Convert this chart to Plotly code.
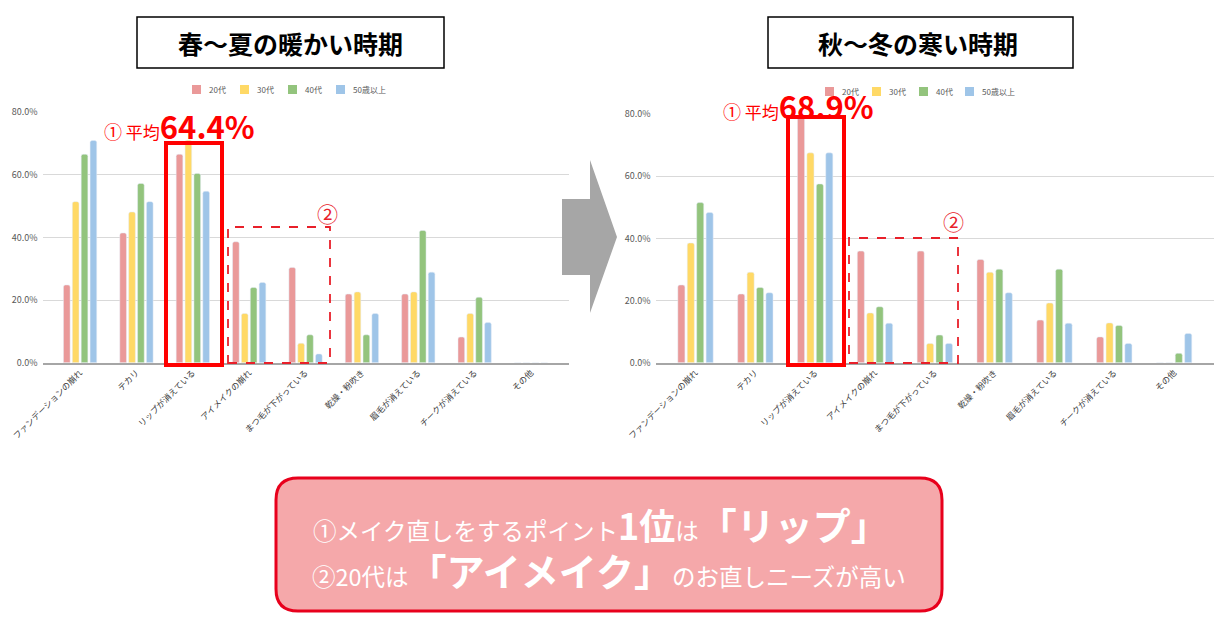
import plotly.graph_objects as go

# the page body adds an 8px margin, so the figure is drawn 8px smaller and
# reference pixel positions are shifted by that offset
OFF = 8
W, H = 1229 - OFF, 630 - OFF

categories = ["ファンデーションの崩れ", "テカリ", "リップが消えている", "アイメイクの崩れ",
              "まつ毛が下がっている", "乾燥・粉吹き", "眉毛が消えている", "チークが消えている", "その他"]
age_groups = ["20代", "30代", "40代", "50歳以上"]
colors = ["#ea9999", "#ffd966", "#93c47d", "#9fc5e8"]

# 春〜夏 (%)
warm_20s = [24.8, 41.4, 66.5, 38.6, 30.4, 21.9, 21.9, 8.2, 0]
warm_30s = [51.4, 48.1, 71.0, 15.7, 6.2, 22.6, 22.6, 15.7, 0]
warm_40s = [66.5, 57.2, 60.4, 24.0, 8.9, 8.9, 42.2, 20.9, 0]
warm_50s = [70.9, 51.4, 54.7, 25.6, 2.8, 15.7, 28.9, 12.8, 0]

# 秋〜冬 (%)
cold_20s = [25.0, 22.1, 79.0, 35.9, 35.9, 33.2, 13.7, 8.3, 0]
cold_30s = [38.5, 29.1, 67.5, 16.0, 6.2, 29.1, 19.2, 12.8, 0]
cold_40s = [51.5, 24.2, 57.5, 18.0, 8.9, 30.1, 30.1, 12.0, 3.0]
cold_50s = [48.3, 22.5, 67.5, 12.7, 6.2, 22.5, 12.7, 6.2, 9.4]

warm_avg = "64.4%"
cold_avg = "68.9%"

y_ticks = [0, 20, 40, 60, 80]
y_tick_labels = ["0.0%", "20.0%", "40.0%", "60.0%", "80.0%"]

FONT = "Noto Sans CJK JP"
RED = "#ff0000"


def px(x):
    return (x - OFF) / W


def py(y):
    return 1 - (y - OFF) / H


fig = go.Figure()

warm = [warm_20s, warm_30s, warm_40s, warm_50s]
cold = [cold_20s, cold_30s, cold_40s, cold_50s]
for name, col, vals in zip(age_groups, colors, warm):
    fig.add_trace(go.Bar(x=categories, y=vals, name=name, marker=dict(color=col, cornerradius=2),
                         xaxis="x", yaxis="y", showlegend=False))
for name, col, vals in zip(age_groups, colors, cold):
    fig.add_trace(go.Bar(x=categories, y=vals, name=name, marker=dict(color=col, cornerradius=2),
                         xaxis="x2", yaxis="y2", showlegend=False))

xax = dict(type="category", range=[-0.667, 8.667], tickangle=-45, showline=True,
           linecolor="#a6a6a6", linewidth=1.5, ticks="", showgrid=False, automargin=False,
           tickfont=dict(size=8.5, color="#404040", family=FONT))
yax = dict(range=[0, 80], tickvals=y_ticks, ticktext=y_tick_labels, automargin=False,
           showgrid=True, gridcolor="#d9d9d9", gridwidth=1, zeroline=False,
           ticklabelstandoff=4, tickfont=dict(size=9, color="#595959", family=FONT))

shapes = []
annotations = []

# legends (key squares + labels), one per chart
legend_rows = [
    ([192, 240, 288, 336], 89.5),
    ([825, 872, 919, 965], 91.5),
]
for xs, yc in legend_rows:
    for x0, name, col in zip(xs, age_groups, colors):
        shapes.append(dict(type="rect", xref="paper", yref="paper", x0=px(x0), x1=px(x0 + 9),
                           y0=py(yc + 4.5), y1=py(yc - 4.5), fillcolor=col, line=dict(width=0)))
        annotations.append(dict(text=name, x=px(x0 + 15), y=py(yc), xanchor="left",
                                font=dict(size=8, color="#595959")))

# title boxes
for x0, x1 in [(137, 444), (768, 1073)]:
    shapes.append(dict(type="rect", xref="paper", yref="paper", x0=px(x0), x1=px(x1),
                       y0=py(68), y1=py(17), line=dict(color="#000000", width=1.5),
                       fillcolor="white", layer="below"))
# red highlight boxes
shapes.append(dict(type="rect", xref="paper", yref="paper", x0=px(166), x1=px(222),
                   y0=py(365), y1=py(143), line=dict(color=RED, width=4)))
shapes.append(dict(type="rect", xref="paper", yref="paper", x0=px(788), x1=px(844),
                   y0=py(365), y1=py(117), line=dict(color=RED, width=4)))
shapes.append(dict(type="rect", xref="paper", yref="paper", x0=px(228), x1=px(330),
                   y0=py(363), y1=py(227), line=dict(color="#e8202a", width=1.8, dash="dash")))
shapes.append(dict(type="rect", xref="paper", yref="paper", x0=px(849), x1=px(958),
                   y0=py(363), y1=py(238), line=dict(color="#e8202a", width=1.8, dash="dash")))

# gray arrow
arrow_pts = [(562, 199), (590, 199), (590, 160), (617, 237), (590, 313), (590, 275), (562, 275)]
arrow_path = "M " + " L ".join(f"{px(a)},{py(b)}" for a, b in arrow_pts) + " Z"
shapes.append(dict(type="path", xref="paper", yref="paper", path=arrow_path,
                   fillcolor="#a6a6a6", line=dict(width=0)))

# bottom rounded box
bx0, bx1, by0, by1, r = 276, 942, 478, 611, 22
pts = [
    ("M", [(bx0 + r, by0)]), ("L", [(bx1 - r, by0)]), ("Q", [(bx1, by0), (bx1, by0 + r)]),
    ("L", [(bx1, by1 - r)]), ("Q", [(bx1, by1), (bx1 - r, by1)]),
    ("L", [(bx0 + r, by1)]), ("Q", [(bx0, by1), (bx0, by1 - r)]),
    ("L", [(bx0, by0 + r)]), ("Q", [(bx0, by0), (bx0 + r, by0)]),
]
box_path = " ".join(cmd + " " + " ".join(f"{px(a)},{py(b)}" for a, b in p) for cmd, p in pts) + " Z"
shapes.append(dict(type="path", xref="paper", yref="paper", path=box_path,
                   fillcolor="#f5a8aa", line=dict(color="#e8001c", width=3)))

avg_fmt = "<span style='font-size:18px'>①</span> 平均<b><span style='font-size:31px'>{}</span></b>"
annotations += [
    dict(text="<b>春〜夏の暖かい時期</b>", x=px(290), y=py(43), font=dict(size=25, color="#000000")),
    dict(text="<b>秋〜冬の寒い時期</b>", x=px(918), y=py(43), font=dict(size=25, color="#000000")),
    dict(text=avg_fmt.format(warm_avg), x=px(102), y=py(125), xanchor="left",
         font=dict(size=17, color=RED)),
    dict(text=avg_fmt.format(cold_avg), x=px(721), y=py(105), xanchor="left",
         font=dict(size=17, color=RED)),
    dict(text="②", x=px(327), y=py(213), font=dict(size=21, color="#e8202a")),
    dict(text="②", x=px(953), y=py(221), font=dict(size=21, color="#e8202a")),
    dict(text="①メイク直しをするポイント<b><span style='font-size:36px'>1位</span></b>は"
              "<b><span style='font-size:38px'>「リップ」</span></b>",
         x=px(601), y=py(523), font=dict(size=23.5, color="white")),
    dict(text="②20代は<b><span style='font-size:38px'>「アイメイク」</span></b>のお直しニーズが高い",
         x=px(609), y=py(569), font=dict(size=23.5, color="white")),
]
for a in annotations:
    a.update(xref="paper", yref="paper", showarrow=False)
    a.setdefault("xanchor", "center")
    a["yanchor"] = "middle"
    a["font"]["family"] = FONT

fig.update_layout(
    width=W, height=H,
    margin=dict(l=0, r=0, t=0, b=0, autoexpand=False),
    paper_bgcolor="white", plot_bgcolor="white",
    font=dict(family=FONT),
    showlegend=False,
    barmode="group", bargap=0.37, bargroupgap=0.25,
    xaxis=dict(xax, domain=[px(42.5), px(568.6)], anchor="y"),
    yaxis=dict(yax, domain=[py(362.7), py(112)], anchor="x"),
    xaxis2=dict(xax, domain=[px(655.6), px(1214)], anchor="y2"),
    yaxis2=dict(yax, domain=[py(362.7), py(114)], anchor="x2"),
    shapes=shapes,
    annotations=annotations,
)

fig.write_html("out.html")
